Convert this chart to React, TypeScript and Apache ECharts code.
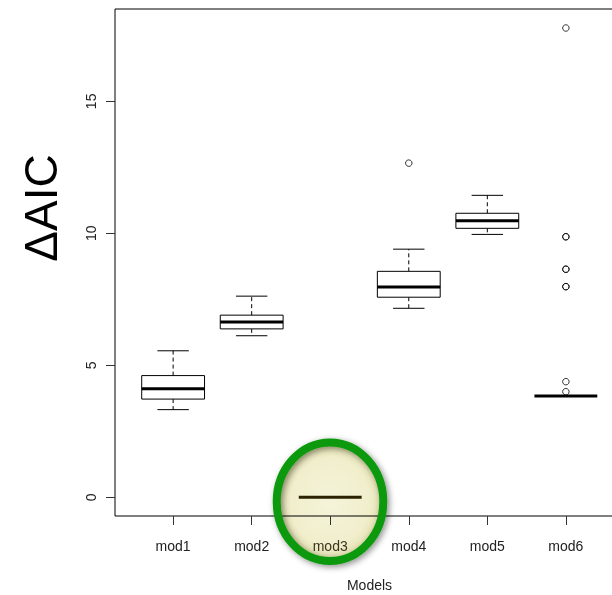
import React, { useEffect, useRef } from "react";
import * as echarts from "echarts";

const categories = ["mod1", "mod2", "mod3", "mod4", "mod5", "mod6"];
const positions = [1, 2, 3, 4, 5, 6];
const whiskerLow = [3.32, 6.12, 0, 7.16, 9.96, 3.84];
const q1 = [3.72, 6.38, 0, 7.58, 10.19, 3.84];
const medians = [4.11, 6.64, 0, 7.97, 10.48, 3.84];
const q3 = [4.61, 6.9, 0, 8.56, 10.76, 3.84];
const whiskerHigh = [5.55, 7.62, 0, 9.4, 11.44, 3.84];
const outlierX = [4, 6, 6, 6, 6, 6, 6, 6, 6, 6];
const outlierY = [12.66, 17.78, 9.87, 9.87, 8.64, 8.64, 7.98, 7.98, 4.38, 4.0];
const yTicks = [0, 5, 10, 15];

const FONT = "'Liberation Sans', Arial, Helvetica, sans-serif";

export default function App() {
  const ref = useRef<HTMLDivElement>(null);
  useEffect(() => {
    if (!ref.current) return;
    const chart = echarts.init(ref.current, null, { renderer: "svg" });
    const boxData = positions.map((p, i) => [
      p,
      whiskerLow[i],
      q1[i],
      medians[i],
      q3[i],
      whiskerHigh[i],
    ]);
    const outData = outlierX.map((x, i) => [x, outlierY[i]]);
    chart.setOption({
      animation: false,
      grid: {
        left: 115,
        top: 9,
        width: 509,
        height: 507,
        show: true,
        borderColor: "#000",
        borderWidth: 1,
        outerBoundsMode: "none",
        containLabel: false,
      },
      xAxis: {
        type: "value",
        min: 0.26,
        max: 6.74,
        name: "Models",
        nameLocation: "middle",
        nameGap: 62,
        nameTextStyle: { fontFamily: FONT, fontSize: 14, color: "#222" },
        axisLine: { show: false, onZero: false },
        splitLine: { show: false },
        axisTick: {
          show: true,
          inside: false,
          length: 9,
          customValues: positions,
          lineStyle: { color: "#333" },
        },
        axisLabel: {
          customValues: positions,
          formatter: (v: number) => categories[Math.round(v) - 1] ?? "",
          fontFamily: FONT,
          fontSize: 14,
          margin: 23,
          color: (v: number) => (Math.round(v) === 3 ? "#3b3520" : "#222"),
        },
      },
      yAxis: {
        type: "value",
        min: -0.71,
        max: 18.5,
        axisLine: { show: false, onZero: false },
        splitLine: { show: false },
        axisTick: {
          show: true,
          inside: false,
          length: 9,
          customValues: yTicks,
          lineStyle: { color: "#333" },
        },
        axisLabel: {
          customValues: yTicks,
          rotate: 90,
          fontFamily: FONT,
          fontSize: 14,
          margin: 17,
          color: "#222",
        },
      },
      series: [
        {
          type: "custom",
          data: boxData,
          z: 3,
          renderItem: (params: any, api: any) => {
            const x = api.value(0);
            const mn = api.value(1);
            const a = api.value(2);
            const md = api.value(3);
            const b = api.value(4);
            const mx = api.value(5);
            const half = api.size([0.4, 0])[0];
            const cap = half / 2;
            const pMin = api.coord([x, mn]);
            const pQ1 = api.coord([x, a]);
            const pMed = api.coord([x, md]);
            const pQ3 = api.coord([x, b]);
            const pMax = api.coord([x, mx]);
            const cx = pMed[0];
            const isM3 = Math.round(x) === 3;
            const ink = isM3 ? "#2a2200" : "#000";
            const children: any[] = [
              {
                type: "line",
                shape: { x1: cx, y1: pQ3[1], x2: cx, y2: pMax[1] },
                style: { stroke: ink, lineWidth: 1, lineDash: [4, 3] },
              },
              {
                type: "line",
                shape: { x1: cx, y1: pQ1[1], x2: cx, y2: pMin[1] },
                style: { stroke: ink, lineWidth: 1, lineDash: [4, 3] },
              },
              {
                type: "line",
                shape: { x1: cx - cap, y1: pMax[1], x2: cx + cap, y2: pMax[1] },
                style: { stroke: ink, lineWidth: 1 },
              },
              {
                type: "line",
                shape: { x1: cx - cap, y1: pMin[1], x2: cx + cap, y2: pMin[1] },
                style: { stroke: ink, lineWidth: 1 },
              },
            ];
            if (pQ1[1] - pQ3[1] > 0.5) {
              children.push({
                type: "rect",
                shape: {
                  x: cx - half,
                  y: pQ3[1],
                  width: 2 * half,
                  height: pQ1[1] - pQ3[1],
                },
                style: { fill: "#fff", stroke: ink, lineWidth: 1 },
              });
            }
            children.push({
              type: "line",
              shape: { x1: cx - half, y1: pMed[1], x2: cx + half, y2: pMed[1] },
              style: { stroke: ink, lineWidth: 3 },
            });
            return { type: "group", children };
          },
        },
        {
          type: "scatter",
          data: outData,
          symbol: "circle",
          symbolSize: 6.5,
          z: 4,
          itemStyle: {
            color: "rgba(0,0,0,0)",
            borderColor: "#000",
            borderWidth: 1,
          },
        },
      ],
      graphic: [
        {
          type: "text",
          x: 41,
          y: 208,
          rotation: Math.PI / 2,
          style: {
            text: "ΔAIC",
            fontFamily: FONT,
            fontSize: 46,
            fill: "#000",
            align: "center",
            verticalAlign: "middle",
          },
        },
        {
          type: "ellipse",
          z: -10,
          shape: { cx: 330, cy: 501.7, rx: 53.3, ry: 59.3 },
          style: {
            fill: {
              type: "radial",
              x: 0.5,
              y: 0.5,
              r: 0.5,
              colorStops: [
                { offset: 0, color: "#f5f4da" },
                { offset: 0.75, color: "#f0eecb" },
                { offset: 1, color: "#e2dfad" },
              ],
            },
            stroke: "none",
          },
        },
        {
          type: "ellipse",
          z: 100,
          shape: { cx: 330, cy: 501.7, rx: 53.3, ry: 59.3 },
          style: {
            fill: "none",
            stroke: "#0a990a",
            lineWidth: 8,
            shadowBlur: 6,
            shadowColor: "rgba(0,0,0,0.45)",
            shadowOffsetX: 2,
            shadowOffsetY: 2,
          },
        },
      ],
    });
    return () => chart.dispose();
  }, []);
  return (
    <div
      ref={ref}
      style={{ position: "fixed", left: 0, top: 0, width: 612, height: 595 }}
    />
  );
}
